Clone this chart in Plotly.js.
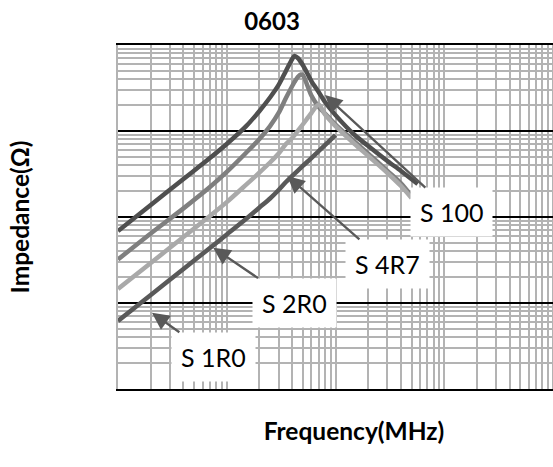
<!DOCTYPE html>
<html>
<head>
<meta charset="utf-8">
<script src="https://cdn.plot.ly/plotly-3.0.1.min.js"></script>
<style>html,body{margin:0;padding:0;background:#fff;overflow:hidden;width:553px;height:467px;}</style>
</head>
<body>
<div id="chart" style="width:590px;height:467px;"></div>
<script>
// Frequency (MHz) and impedance (Ohm)
const freqS100 = [100,200,400,700,1000,1500,2000,2500,3000,3500,4000,4200,4500,5000,6000,7000,8000,10000,15000,20000,30000,40000,57000];
const zS100    = [6.87,13.8,27.7,48.5,70.6,113,171,245,343,499,687,745,706,585,381,284,217,153,89.8,66.9,44.8,34.3,24.2];

const freqS4R7 = [100,200,400,700,1000,1500,2000,2500,3000,3500,4000,4200,4500,4800,5000,6000,7000,8000,10000,15000,20000,30000,40000,50000];
const zS4R7    = [3.21,6.43,12.6,22.3,33.4,55.5,80.7,114,162,242,334,372,424,454,448,259,191,160,119,75.3,54.6,34.3,24.6,17.5];

const freqS2R0 = [100,200,400,700,1000,1500,2000,2500,3000,3500,4000,4500,5000,6000,7000,8000,10000,15000,20000,30000,40000,50000];
const zS2R0    = [1.46,2.92,5.85,10.3,14.9,23.6,32.9,43.0,54.7,70.6,82.9,100,119,162,203,156,114,70.6,51.2,32.5,22.9,16.6];

const freqS1R0 = [100,200,400,700,1000,1500,2000,2500,3000,3500,4000,5000,6000,7000,8000,10000];
const zS1R0    = [0.618,1.24,2.49,4.36,6.26,9.48,12.9,16.4,20.6,25.5,30.0,39.2,48.5,58.5,68.7,89.8];

const seriesNames = ['S 100','S 4R7','S 2R0','S 1R0'];

// Callout labels: arrow tip (frequency MHz, impedance Ohm)
const labelText = ['S 100','S 4R7','S 2R0','S 1R0'];
const labelTipF = [8000, 3600, 750, 205];
const labelTipZ = [262, 30, 4.4, 0.77];

const FONT = 'Lato, "Open Sans", sans-serif';

const traces = [
  {x: freqS100, y: zS100, name: seriesNames[0], color: '#4f4f4f'},
  {x: freqS4R7, y: zS4R7, name: seriesNames[1], color: '#7f7f7f'},
  {x: freqS2R0, y: zS2R0, name: seriesNames[2], color: '#a9a9a9'},
  {x: freqS1R0, y: zS1R0, name: seriesNames[3], color: '#595959'}
].map(s => ({
  type: 'scatter', mode: 'lines', x: s.x, y: s.y, name: s.name,
  line: {color: s.color, width: 4.5, shape: 'spline', smoothing: 0.8},
  hoverinfo: 'skip'
}));

// pixel offsets of label centre from arrow tip
const labelAx = [127, 100, 81, 62];
const labelAy = [117, 88, 55, 44];

const annotations = labelText.map((t, i) => ({
  x: Math.log10(labelTipF[i]), y: Math.log10(labelTipZ[i]), xref: 'x', yref: 'y',
  text: t, showarrow: true, ax: labelAx[i], ay: labelAy[i],
  arrowhead: 2, arrowsize: 1.5, arrowwidth: 2.3, arrowcolor: '#595959',
  bgcolor: '#ffffff', borderpad: 9,
  font: {family: FONT, size: 25, color: '#000'}
}));

const layout = {
  width: 590, height: 467,
  margin: {l: 118, r: 0, t: 45, b: 78},
  paper_bgcolor: '#ffffff', plot_bgcolor: '#ffffff',
  showlegend: false,
  title: {text: '<b>0603</b>', x: 272/590, xref: 'container', xanchor: 'center',
          y: 1 - 22/467, yref: 'container', yanchor: 'middle',
          font: {family: FONT, size: 24, color: '#000'}},
  xaxis: {
    type: 'log', range: [2, 6.34], dtick: 1,
    showgrid: true, gridcolor: '#b3b3b3', gridwidth: 2,
    minor: {dtick: 'D1', showgrid: true, gridcolor: '#b3b3b3', gridwidth: 2, ticks: ''},
    showticklabels: false, ticks: '', zeroline: false,
    showline: true, linecolor: '#000', linewidth: 2, mirror: true,
    title: {text: '<b>Frequency(MHz)</b>', standoff: 33, font: {family: FONT, size: 24.5, color: '#000'}},
    automargin: false
  },
  yaxis: {
    type: 'log', range: [-1, 3], dtick: 1,
    showgrid: true, gridcolor: '#000', gridwidth: 2,
    minor: {dtick: 'D1', showgrid: true, gridcolor: '#b3b3b3', gridwidth: 2, ticks: ''},
    showticklabels: false, ticks: '', zeroline: false,
    showline: true, linecolor: '#b3b3b3', linewidth: 2, mirror: true,
    title: {text: '<b>Impedance(Ω)</b>', standoff: 79, font: {family: FONT, size: 24.5, color: '#000'}},
    automargin: false
  },
  annotations: annotations
};

Plotly.newPlot('chart', traces, layout, {displayModeBar: false, staticPlot: true});
</script>
</body>
</html>
